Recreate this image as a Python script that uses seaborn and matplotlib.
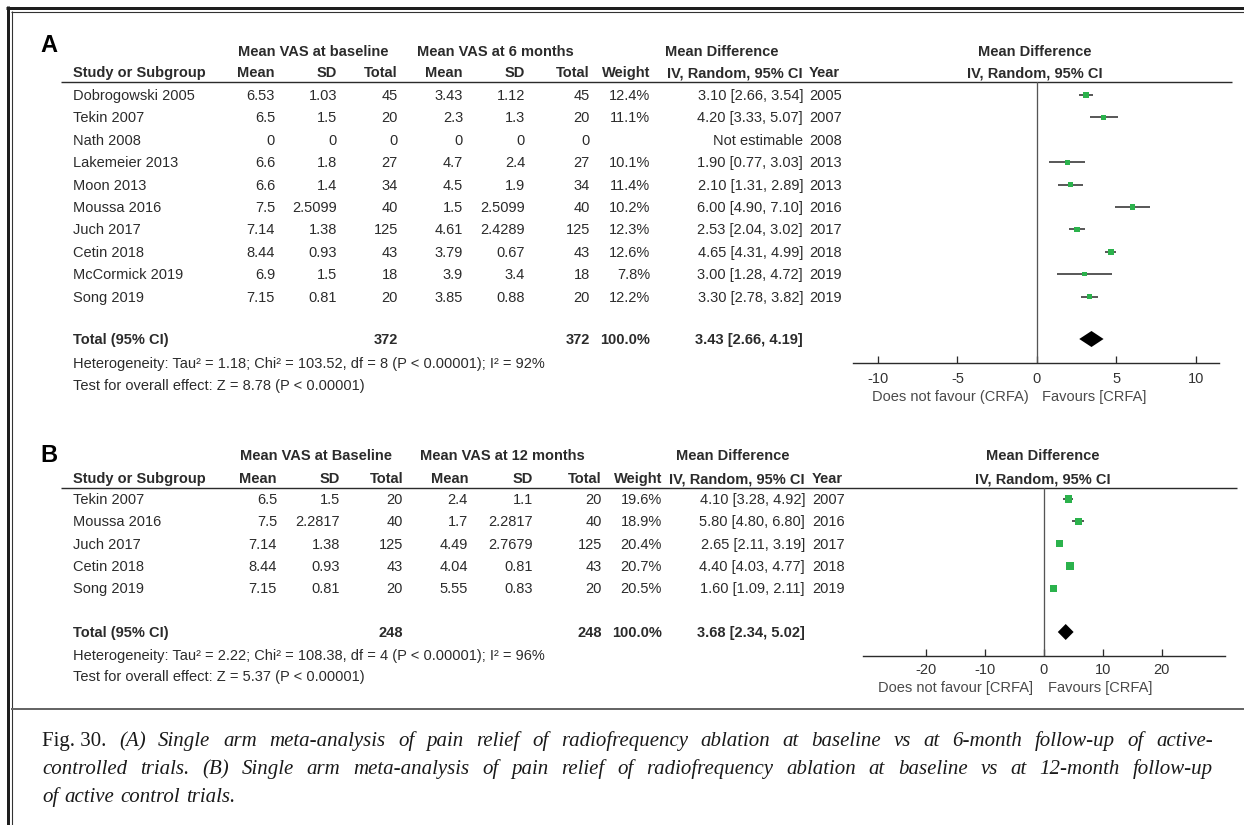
import numpy as np
import pandas as pd
import matplotlib
matplotlib.use("Agg")
import matplotlib.pyplot as plt
import seaborn as sns

# ---------------- Panel A: baseline vs 6 months ----------------
a_study = ["Dobrogowski 2005", "Tekin 2007", "Nath 2008", "Lakemeier 2013", "Moon 2013",
           "Moussa 2016", "Juch 2017", "Cetin 2018", "McCormick 2019", "Song 2019"]
a_base_mean = [6.53, 6.5, 0, 6.6, 6.6, 7.5, 7.14, 8.44, 6.9, 7.15]
a_base_sd = [1.03, 1.5, 0, 1.8, 1.4, 2.5099, 1.38, 0.93, 1.5, 0.81]
a_base_n = [45, 20, 0, 27, 34, 40, 125, 43, 18, 20]
a_fu_mean = [3.43, 2.3, 0, 4.7, 4.5, 1.5, 4.61, 3.79, 3.9, 3.85]
a_fu_sd = [1.12, 1.3, 0, 2.4, 1.9, 2.5099, 2.4289, 0.67, 3.4, 0.88]
a_fu_n = [45, 20, 0, 27, 34, 40, 125, 43, 18, 20]
a_weight = [12.4, 11.1, np.nan, 10.1, 11.4, 10.2, 12.3, 12.6, 7.8, 12.2]
a_md = [3.10, 4.20, np.nan, 1.90, 2.10, 6.00, 2.53, 4.65, 3.00, 3.30]
a_lo = [2.66, 3.33, np.nan, 0.77, 1.31, 4.90, 2.04, 4.31, 1.28, 2.78]
a_hi = [3.54, 5.07, np.nan, 3.03, 2.89, 7.10, 3.02, 4.99, 4.72, 3.82]
a_year = [2005, 2007, 2008, 2013, 2013, 2016, 2017, 2018, 2019, 2019]
a_total = [3.43, 2.66, 4.19]
a_total_n = [372, 372]
a_het = "Heterogeneity: Tau\u00b2 = 1.18; Chi\u00b2 = 103.52, df = 8 (P < 0.00001); I\u00b2 = 92%"
a_test = "Test for overall effect: Z = 8.78 (P < 0.00001)"
a_ticks = [-10, -5, 0, 5, 10]
a_groups = ["Mean VAS at baseline", "Mean VAS at 6 months"]
a_favours = ["Does not favour (CRFA)", "Favours [CRFA]"]

# ---------------- Panel B: baseline vs 12 months ----------------
b_study = ["Tekin 2007", "Moussa 2016", "Juch 2017", "Cetin 2018", "Song 2019"]
b_base_mean = [6.5, 7.5, 7.14, 8.44, 7.15]
b_base_sd = [1.5, 2.2817, 1.38, 0.93, 0.81]
b_base_n = [20, 40, 125, 43, 20]
b_fu_mean = [2.4, 1.7, 4.49, 4.04, 5.55]
b_fu_sd = [1.1, 2.2817, 2.7679, 0.81, 0.83]
b_fu_n = [20, 40, 125, 43, 20]
b_weight = [19.6, 18.9, 20.4, 20.7, 20.5]
b_md = [4.10, 5.80, 2.65, 4.40, 1.60]
b_lo = [3.28, 4.80, 2.11, 4.03, 1.09]
b_hi = [4.92, 6.80, 3.19, 4.77, 2.11]
b_year = [2007, 2016, 2017, 2018, 2019]
b_total = [3.68, 2.34, 5.02]
b_total_n = [248, 248]
b_het = "Heterogeneity: Tau\u00b2 = 2.22; Chi\u00b2 = 108.38, df = 4 (P < 0.00001); I\u00b2 = 96%"
b_test = "Test for overall effect: Z = 5.37 (P < 0.00001)"
b_ticks = [-20, -10, 0, 10, 20]
b_groups = ["Mean VAS at Baseline", "Mean VAS at 12 months"]
b_favours = ["Does not favour [CRFA]", "Favours [CRFA]"]

caption_lines = [
    [("Fig. 30.", "normal"), ("(A)", "italic"), ("Single", "italic"), ("arm", "italic"),
     ("meta-analysis", "italic"), ("of", "italic"), ("pain", "italic"), ("relief", "italic"),
     ("of", "italic"), ("radiofrequency", "italic"), ("ablation", "italic"), ("at", "italic"),
     ("baseline", "italic"), ("vs", "italic"), ("at", "italic"), ("6-month", "italic"),
     ("follow-up", "italic"), ("of", "italic"), ("active-", "italic")],
    [("controlled", "italic"), ("trials.", "italic"), ("(B)", "italic"), ("Single", "italic"),
     ("arm", "italic"), ("meta-analysis", "italic"), ("of", "italic"), ("pain", "italic"),
     ("relief", "italic"), ("of", "italic"), ("radiofrequency", "italic"), ("ablation", "italic"),
     ("at", "italic"), ("baseline", "italic"), ("vs", "italic"), ("at", "italic"),
     ("12-month", "italic"), ("follow-up", "italic")],
    [("of", "italic"), ("active", "italic"), ("control", "italic"), ("trials.", "italic")],
]

# ---------------- styling ----------------
sns.set_theme(style="white")
plt.rcParams["font.family"] = ["Liberation Sans", "DejaVu Sans"]
plt.rcParams["axes.unicode_minus"] = False

W, H = 1244, 825
PX = 0.72            # points per pixel at 100 dpi
INK = "#2b2b2b"
GREY = "#4a4a4a"
GREEN = "#2bb24c"
FS = 10.5
CAP = 5.0            # half cap height in px, used to centre text on a row

fig = plt.figure(figsize=(W / 100, H / 100), dpi=100)
fig.patch.set_facecolor("white")
bg = fig.add_axes([0, 0, 1, 1])
bg.set_xlim(0, W)
bg.set_ylim(H, 0)
bg.axis("off")
bg.set_zorder(0)


def txt(x, y, s, ha="left", bold=False, size=FS, color=INK):
    bg.text(x, y + CAP, s, ha=ha, va="baseline", fontsize=size,
            fontweight="bold" if bold else "normal", color=color)


def fmt_ci(m, lo, hi):
    return f"{m:.2f} [{lo:.2f}, {hi:.2f}]"


LAYOUT_A = dict(
    letter=("A", 40, 45), head1=51, head2=72, rule=82, rule_x=(61, 1232),
    row0=95, dy=22.4, total=339, het=363, test=385,
    cols=dict(name=73, bm=275, bsd=337, bn=398, fm=463, fsd=525, fn=590, w=650, ci=803, yr=809),
    g1=313, g2=495, mdhead=722,
    forest=dict(left=853, right=1219, top=82, bottom=363, xlim=(-11.57, 11.45),
                head_x=1035, pad=6.5, fav_dy=34, fav_l=-8, fav_r=5),
)
LAYOUT_B = dict(
    letter=("B", 40, 455), head1=455, head2=478, rule=488, rule_x=(61, 1237),
    row0=499, dy=22.3, total=632, het=655, test=676,
    cols=dict(name=73, bm=277, bsd=340, bn=403, fm=468, fsd=533, fn=602, w=662, ci=805, yr=812),
    g1=316, g2=502, mdhead=733,
    forest=dict(left=863, right=1225, top=488, bottom=656, xlim=(-30.7, 30.7),
                head_x=1043, pad=5.0, fav_dy=32, fav_l=-11, fav_r=4),
)


def draw_panel(L, study, bm, bsd, bn, fm, fsd, fn, wt, md, lo, hi, yr,
               total, total_n, het, test, ticks, groups, favours):
    c = L["cols"]
    letter, lx, ly = L["letter"]
    bg.text(lx, ly, letter, fontsize=17, fontweight="bold", va="center", color="black")

    # column headers
    txt(L["g1"], L["head1"], groups[0], ha="center", bold=True)
    txt(L["g2"], L["head1"], groups[1], ha="center", bold=True)
    txt(L["mdhead"], L["head1"], "Mean Difference", ha="center", bold=True)
    txt(L["forest"]["head_x"], L["head1"], "Mean Difference", ha="center", bold=True)
    h2 = L["head2"]
    txt(c["name"], h2, "Study or Subgroup", bold=True)
    for key, lab in [("bm", "Mean"), ("bsd", "SD"), ("bn", "Total"),
                     ("fm", "Mean"), ("fsd", "SD"), ("fn", "Total"), ("w", "Weight"),
                     ("ci", "IV, Random, 95% CI")]:
        txt(c[key], h2, lab, ha="right", bold=True)
    txt(c["yr"], h2, "Year", bold=True)
    txt(L["forest"]["head_x"], h2, "IV, Random, 95% CI", ha="center", bold=True)
    bg.plot(L["rule_x"], [L["rule"], L["rule"]], color=INK, lw=1.4 * PX, solid_capstyle="butt")

    # study rows
    ys = [L["row0"] + i * L["dy"] for i in range(len(study))]
    for i, y in enumerate(ys):
        txt(c["name"], y, study[i])
        txt(c["bm"], y, f"{bm[i]:g}", ha="right")
        txt(c["bsd"], y, f"{bsd[i]:g}", ha="right")
        txt(c["bn"], y, f"{bn[i]:d}", ha="right")
        txt(c["fm"], y, f"{fm[i]:g}", ha="right")
        txt(c["fsd"], y, f"{fsd[i]:g}", ha="right")
        txt(c["fn"], y, f"{fn[i]:d}", ha="right")
        if not np.isnan(wt[i]):
            txt(c["w"], y, f"{wt[i]:.1f}%", ha="right")
            txt(c["ci"], y, fmt_ci(md[i], lo[i], hi[i]), ha="right")
        else:
            txt(c["ci"], y, "Not estimable", ha="right")
        txt(c["yr"], y, str(yr[i]))

    # pooled row and statistics
    ty = L["total"]
    txt(c["name"], ty, "Total (95% CI)", bold=True)
    txt(c["bn"], ty, f"{total_n[0]:d}", ha="right", bold=True)
    txt(c["fn"], ty, f"{total_n[1]:d}", ha="right", bold=True)
    txt(c["w"], ty, f"{100:.1f}%", ha="right", bold=True)
    txt(c["ci"], ty, fmt_ci(*total), ha="right", bold=True)
    txt(c["name"], L["het"], het)
    txt(c["name"], L["test"], test)

    # forest plot
    f = L["forest"]
    ax = fig.add_axes([f["left"] / W, 1 - f["bottom"] / H,
                       (f["right"] - f["left"]) / W, (f["bottom"] - f["top"]) / H])
    ax.set_zorder(2)
    ax.patch.set_alpha(0)
    df = pd.DataFrame({"md": md, "lo": lo, "hi": hi, "w": wt, "y": ys}).dropna()
    ax.hlines(df["y"], df["lo"], df["hi"], color="#333333", lw=1.6 * PX, zorder=2)
    sns.scatterplot(data=df, x="md", y="y", size="w", sizes=(0, 1.33 * 25), size_norm=(0, 25),
                    marker="s", color=GREEN, linewidth=0, legend=False, ax=ax, zorder=3)
    m, tlo, thi = total
    hh = 8
    ax.fill([tlo, m, thi, m], [ty, ty - hh, ty, ty + hh], color="black", lw=0, zorder=3)
    ax.axvline(0, color="#555555", lw=1.3 * PX, zorder=1)
    ax.set_xlim(*f["xlim"])
    ax.set_ylim(f["bottom"], f["top"])
    ax.set_xlabel("")
    ax.set_ylabel("")
    ax.set_yticks([])
    ax.set_xticks(ticks)
    ax.set_xticklabels([str(t) for t in ticks])
    ax.tick_params(axis="x", direction="in", length=7 * PX, width=1.3 * PX, color=INK,
                   labelsize=FS, labelcolor="#333333", pad=f["pad"], bottom=True)
    for side in ["top", "left", "right"]:
        ax.spines[side].set_visible(False)
    ax.spines["bottom"].set_color(INK)
    ax.spines["bottom"].set_linewidth(1.4 * PX)
    ax.annotate(favours[0], xy=(0, 0), xycoords=("data", "axes fraction"),
                xytext=(f["fav_l"] * PX, -f["fav_dy"] * PX), textcoords="offset points",
                ha="right", va="center", fontsize=FS, color=GREY)
    ax.annotate(favours[1], xy=(0, 0), xycoords=("data", "axes fraction"),
                xytext=(f["fav_r"] * PX, -f["fav_dy"] * PX), textcoords="offset points",
                ha="left", va="center", fontsize=FS, color=GREY)


draw_panel(LAYOUT_A, a_study, a_base_mean, a_base_sd, a_base_n, a_fu_mean, a_fu_sd, a_fu_n,
           a_weight, a_md, a_lo, a_hi, a_year, a_total, a_total_n, a_het, a_test, a_ticks,
           a_groups, a_favours)
draw_panel(LAYOUT_B, b_study, b_base_mean, b_base_sd, b_base_n, b_fu_mean, b_fu_sd, b_fu_n,
           b_weight, b_md, b_lo, b_hi, b_year, b_total, b_total_n, b_het, b_test, b_ticks,
           b_groups, b_favours)

# ---------------- frame ----------------
bg.plot([6, W], [7.5, 7.5], color="#1e1e1e", lw=3 * PX, solid_capstyle="butt")
bg.plot([7.5, 7.5], [6, H], color="#1e1e1e", lw=3 * PX, solid_capstyle="butt")
bg.plot([11, W], [11.5, 11.5], color="#333333", lw=1.1 * PX, solid_capstyle="butt")
bg.plot([11.5, 11.5], [11, H], color="#333333", lw=1.1 * PX, solid_capstyle="butt")
bg.plot([11, W], [709, 709], color="#666666", lw=2 * PX, solid_capstyle="butt")

# ---------------- caption (justified) ----------------
SERIF = ["Liberation Serif", "DejaVu Serif"]
CAP_FS = 15
renderer = fig.canvas.get_renderer()


def caption_line(tokens, x0, x1, y, justify):
    items = []
    for word, style in tokens:
        t = bg.text(0, y, word, fontsize=CAP_FS, fontstyle=style, family=SERIF,
                    va="baseline", ha="left", color="#1a1a1a")
        items.append(t)
    widths = [t.get_window_extent(renderer).width for t in items]
    if justify:
        gap = (x1 - x0 - sum(widths)) / (len(items) - 1)
    else:
        gap = CAP_FS / PX * 0.3
    x = x0
    for t, w in zip(items, widths):
        t.set_x(x)
        x += w + gap


caption_line(caption_lines[0], 42, 1213, 746, True)
caption_line(caption_lines[1], 42, 1213, 774, True)
caption_line(caption_lines[2], 42, 1213, 802, False)

fig.savefig("out.png", dpi=100, facecolor="white")
